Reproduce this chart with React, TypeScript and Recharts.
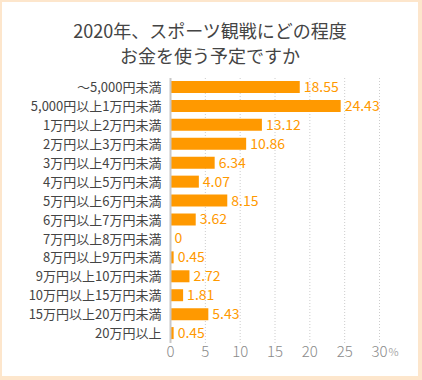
import { BarChart, Bar, XAxis, YAxis, CartesianGrid, LabelList } from 'recharts';

const categories = [
  '～5,000円未満',
  '5,000円以上1万円未満',
  '1万円以上2万円未満',
  '2万円以上3万円未満',
  '3万円以上4万円未満',
  '4万円以上5万円未満',
  '5万円以上6万円未満',
  '6万円以上7万円未満',
  '7万円以上8万円未満',
  '8万円以上9万円未満',
  '9万円以上10万円未満',
  '10万円以上15万円未満',
  '15万円以上20万円未満',
  '20万円以上',
];

const values = [18.55, 24.43, 13.12, 10.86, 6.34, 4.07, 8.15, 3.62, 0, 0.45, 2.72, 1.81, 5.43, 0.45];

const xTicks = [0, 5, 10, 15, 20, 25, 30];

const titleLines = ['2020年、スポーツ観戦にどの程度', 'お金を使う予定ですか'];

const data = categories.map((name, i) => ({ name, value: values[i] }));

const FONT = '"Noto Sans CJK JP", "Noto Sans", sans-serif';
const ORANGE = '#ff9900';

const XTick = (props: any) => {
  const { x, y, payload } = props;
  return (
    <g>
      <text x={x} y={y} dy="0.71em" textAnchor="middle" fontSize={15} fontWeight={300} fill="#8a8a8a" fontFamily={FONT}>
        {payload.value}
      </text>
      {payload.value === 30 && (
        <text x={x + 9} y={y} dy="0.95em" textAnchor="start" fontSize={11} fill="#aaaaaa" fontFamily={FONT}>
          %
        </text>
      )}
    </g>
  );
};

export default function App() {
  return (
    <div style={{ position: 'absolute', left: 0, top: 0, width: 422, height: 380, background: '#fff', fontFamily: FONT }}>
      <div
        style={{
          position: 'absolute',
          left: 0,
          top: 18,
          width: 420,
          textAlign: 'center',
          fontSize: 18,
          lineHeight: '25px',
          color: '#444',
        }}
      >
        {titleLines.map(line => (
          <div key={line}>{line}</div>
        ))}
      </div>

      <BarChart
        width={422}
        height={380}
        data={data}
        layout="vertical"
        margin={{ top: 78, right: 42.5, left: 0, bottom: 7 }}
        barSize={12}
        style={{ position: 'absolute', left: 0, top: 0 }}
      >
        <CartesianGrid horizontal={false} vertical stroke="#cccccc" strokeDasharray="1 2" />
        <XAxis
          type="number"
          domain={[0, 30]}
          ticks={xTicks}
          axisLine={false}
          tickLine={false}
          tickSize={0}
          tickMargin={3}
          height={30}
          tick={<XTick />}
          interval={0}
        />
        <YAxis
          type="category"
          dataKey="name"
          width={170.5}
          axisLine={{ stroke: '#c8c8c8', strokeWidth: 2 }}
          tickLine={false}
          tickSize={0}
          tickMargin={9}
          interval={0}
          tick={{ fontSize: 13, fill: '#444', fontFamily: FONT }}
        />
        <Bar
          dataKey="value"
          fill={ORANGE}
          isAnimationActive={false}
          minPointSize={(v: number) => (v === 0 ? 0.01 : 0)}
        >
          <LabelList
            dataKey="value"
            position="right"
            offset={4}
            fill={ORANGE}
            fontSize={14}
            fontFamily={FONT}
          />
        </Bar>
      </BarChart>

      <div
        style={{
          position: 'absolute',
          left: 0,
          top: 0,
          width: 422,
          height: 380,
          boxSizing: 'border-box',
          borderStyle: 'solid',
          borderColor: '#fde6cc',
          borderWidth: '2px 4px 4px 2px',
          pointerEvents: 'none',
        }}
      />
    </div>
  );
}
